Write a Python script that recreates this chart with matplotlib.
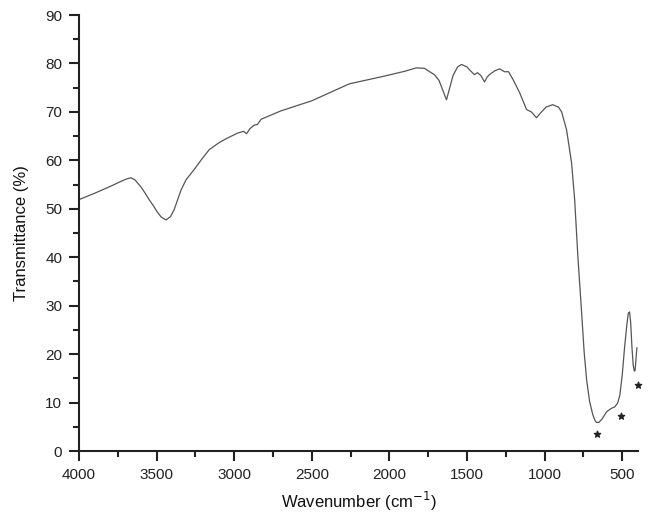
import matplotlib
matplotlib.use("Agg")
import matplotlib.pyplot as plt
from matplotlib.ticker import MultipleLocator

plt.rcParams['font.family'] = ['Liberation Sans', 'DejaVu Sans']

wavenumber = [4000, 3900, 3800, 3720, 3690, 3665, 3640, 3600, 3575, 3548, 3520, 3497,
              3470, 3439, 3410, 3387, 3365, 3342, 3310, 3258, 3210, 3161, 3100, 3050,
              2980, 2940, 2920, 2900, 2870, 2850, 2826, 2700, 2500, 2258, 2045, 1900,
              1826, 1774, 1740, 1710, 1680, 1650, 1632, 1615, 1590, 1560, 1535, 1500,
              1484, 1452, 1432, 1410, 1387, 1370, 1355, 1320, 1290, 1258, 1232, 1200,
              1161, 1116, 1085, 1052, 1020, 990, 948, 910, 890, 858, 826, 806, 785,
              761, 745, 729, 710, 690, 675, 665, 650, 630, 600, 570, 548, 529, 515,
              500, 484, 470, 460, 452, 445, 437, 429, 422, 417, 412, 405]
transmittance = [51.9, 53.2, 54.6, 55.8, 56.2, 56.4, 56.0, 54.5, 53.3, 51.9, 50.6, 49.4,
                 48.3, 47.7, 48.4, 49.8, 51.8, 53.9, 56.0, 58.1, 60.2, 62.2, 63.6, 64.5,
                 65.6, 66.0, 65.5, 66.5, 67.3, 67.4, 68.5, 70.2, 72.3, 75.8, 77.3, 78.4,
                 79.1, 79.0, 78.3, 77.7, 76.5, 74.0, 72.5, 74.5, 77.5, 79.3, 79.8, 79.3,
                 78.7, 77.7, 78.1, 77.5, 76.2, 77.2, 77.7, 78.5, 78.9, 78.3, 78.3, 76.5,
                 74.0, 70.5, 70.0, 68.8, 70.0, 71.0, 71.5, 71.0, 70.0, 66.3, 59.5, 51.9,
                 40.0, 28.5, 20.5, 14.7, 10.3, 7.6, 6.3, 5.9, 5.9, 6.6, 8.1, 8.8, 9.1,
                 9.9, 11.5, 15.5, 21.5, 26.0, 28.5, 28.7, 26.5, 21.5, 17.8, 16.5, 16.6,
                 18.5, 21.3]

star_x = [665, 510, 400]
star_y = [3.5, 7.2, 13.6]

fig = plt.figure(figsize=(6.5, 5.19), dpi=100)
ax = fig.add_axes([0.1215, 0.131, 0.86, 0.840])
ax.plot(wavenumber, transmittance, color='#555555', lw=0.9)
ax.scatter(star_x, star_y, marker='*', s=22, color='#222222', zorder=3, clip_on=False)

ax.set_xlim(4000, 398)
ax.set_ylim(0, 90)
ax.xaxis.set_major_locator(MultipleLocator(500))
ax.xaxis.set_minor_locator(MultipleLocator(250))
ax.yaxis.set_major_locator(MultipleLocator(10))
ax.yaxis.set_minor_locator(MultipleLocator(5))
for s in ['top', 'right']:
    ax.spines[s].set_visible(False)
for s in ['left', 'bottom']:
    ax.spines[s].set_linewidth(1.5)
    ax.spines[s].set_color('#222222')
ax.tick_params(which='major', direction='out', length=7, width=1.5, labelsize=11,
               color='#222222', labelcolor='#222222', pad=5)
ax.tick_params(which='minor', direction='out', length=4, width=1.5, color='#222222')
ax.set_xlabel('Wavenumber (cm$^{-1}$)', fontsize=12, labelpad=6, color='#111111')
ax.set_ylabel('Transmittance (%)', fontsize=12, labelpad=12, color='#111111')

fig.savefig('out.png', dpi=100)
